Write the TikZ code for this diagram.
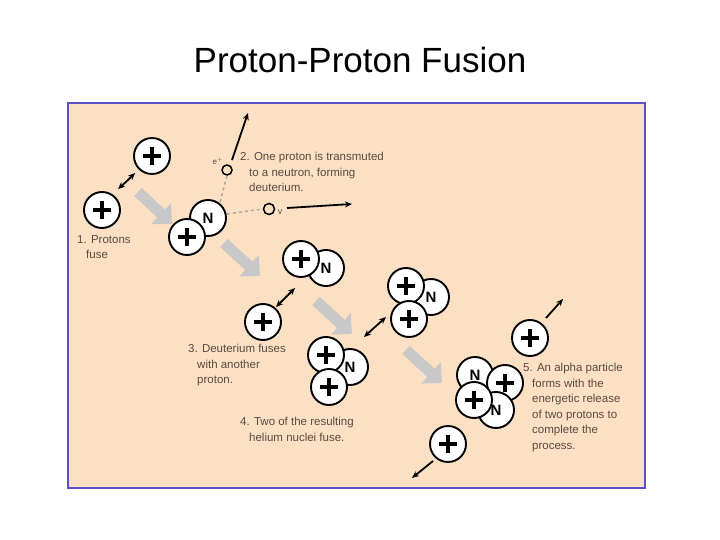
\documentclass[tikz,border=0pt]{standalone}
\usepackage{fontspec}
\setmainfont{Liberation Sans}
\usetikzlibrary{arrows.meta}
\definecolor{peach}{HTML}{FCE0C4}
\definecolor{frame}{HTML}{5A50C8}
\definecolor{txt}{HTML}{5A4A40}
\definecolor{garrow}{HTML}{C8C8C8}
\definecolor{dashc}{HTML}{B0A8A0}
\tikzset{
 part/.style={circle,draw=black,fill=white,line width=1.9pt,minimum size=36pt,inner sep=0pt},
 neut/.style={part,font=\fontsize{15}{15}\selectfont\bfseries},
 lbl/.style={text=txt,font=\fontsize{11.5}{15.5}\selectfont,align=left,anchor=north west,inner sep=0pt},
 garr/.style={garrow,line width=11pt,-{Triangle[length=15pt,width=28pt]}},
 karr/.style={black,line width=1.8pt,-{Stealth[length=7pt,width=6pt]}},
 graydash/.style={dashc,line width=1.5pt,dashed}
}
\newcommand{\plusnode}[2]{\node[part] (#1) at (#2) {};
 \draw[line width=4.5pt] ([xshift=-9pt]#1.center) -- ([xshift=9pt]#1.center);
 \draw[line width=4.5pt] ([yshift=-9pt]#1.center) -- ([yshift=9pt]#1.center);}
\begin{document}
\begin{tikzpicture}[x=1pt,y=-1pt]
\useasboundingbox (0,0) rectangle (720,540);
\node[font=\fontsize{35}{35}\selectfont] (title) at (360,60) {Proton-Proton Fusion};
\draw[frame,fill=peach,line width=1.5pt] (68,103) rectangle (645,488);
% gray arrows
\draw[garr] (138,192) -- (172,224);
\draw[garr] (224,243) -- (260,276);
\draw[garr] (316,301) -- (352,334);
\draw[garr] (406,350) -- (442,383);
% step 1
\plusnode{p1}{152,156}
\plusnode{p2}{102,210}
\coordinate (a1) at (127,181);
\draw[karr] (a1) -- (135,173);
\draw[karr] (a1) -- (118,189);
% step 2
\node[neut] (n1) at (208,218) {N};
\plusnode{d1p}{187,237}
\node[circle,draw=black,line width=1.5pt,minimum size=10pt,inner sep=0pt] (ep) at (227,170) {};
\node[text=txt,font=\fontsize{8}{8}\selectfont] at (218,161) {e$^{+}$};
\draw[graydash] (220,202) -- (ep.south);
\coordinate (epa) at (248,113);
\draw[karr] (232,160) -- (epa);
\node[circle,draw=black,line width=1.5pt,minimum size=11pt,inner sep=0pt] (nu) at (269,209) {};
\node[text=txt,font=\fontsize{9}{9}\selectfont] at (280,212) {v};
\draw[graydash] (227,214) -- (nu.west);
\coordinate (nua) at (352,204);
\draw[karr] (287,208) -- (nua);
\node[lbl] (t2) at (240,152) {2. One proton is transmuted\\\hspace*{9pt}to a neutron, forming\\\hspace*{9pt}deuterium.};
\node[lbl] (t1) at (77,235) {1. Protons\\\hspace*{9pt}fuse};
% step 3
\node[neut] (n2) at (326,268) {N};
\plusnode{d2p}{301,259}
\plusnode{p3}{263,322}
\coordinate (a3) at (285,298);
\draw[karr] (a3) -- (295,288);
\draw[karr] (a3) -- (276,307);
\node[lbl] (t3) at (188,344) {3. Deuterium fuses\\\hspace*{9pt}with another\\\hspace*{9pt}proton.};
% helium-3 nuclei
\node[neut] (n3) at (431,297) {N};
\plusnode{h1a}{406,286}
\plusnode{h1b}{409,319}
\node[neut] (n4) at (350,367) {N};
\plusnode{h2a}{326,355}
\plusnode{h2b}{329,387}
\coordinate (a4) at (375,327);
\draw[karr] (a4) -- (386,317);
\draw[karr] (a4) -- (364,337);
\node[lbl] (t4) at (240,417) {4. Two of the resulting\\\hspace*{9pt}helium nuclei fuse.};
% alpha
\node[neut] (n5) at (475,375) {N};
\plusnode{al1}{505,383}
\node[neut] (n6) at (496,410) {N};
\plusnode{al2}{474,400}
\plusnode{p5}{530,338}
\coordinate (o1) at (563,299);
\draw[karr] (546,318) -- (o1);
\plusnode{p6}{448,444}
\coordinate (o2) at (412,478);
\draw[karr] (433,461) -- (o2);
\node[lbl] (t5) at (523,363) {5. An alpha particle\\\hspace*{9pt}forms with the\\\hspace*{9pt}energetic release\\\hspace*{9pt}of two protons to\\\hspace*{9pt}complete the\\\hspace*{9pt}process.};
\end{tikzpicture}
\end{document}
